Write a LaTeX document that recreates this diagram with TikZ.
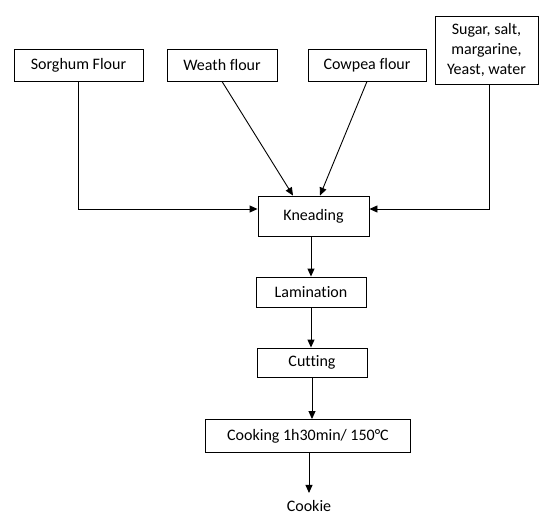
\documentclass[tikz,border=0pt]{standalone}
\usepackage{fontspec}
\setmainfont{Carlito}[Ligatures=NoCommon]
\usetikzlibrary{arrows.meta}
\begin{document}
\begin{tikzpicture}[x=1pt,y=-1pt,
  txt/.style={font=\fontsize{16}{20}\selectfont},
  box/.style={txt,draw,line width=0.9pt,inner sep=0pt,align=center},
  conn/.style={line width=0.9pt,-{Triangle[length=8pt,width=7pt]}}]
\useasboundingbox (0,0) rectangle (539,517);
\node[box,minimum width=129pt,minimum height=32pt] (sorg) at (78.5,65) {Sorghum Flour};
\node[box,minimum width=110pt,minimum height=32pt] (weath) at (222,65) {Weath flour};
\node[box,minimum width=118pt,minimum height=32pt] (cow) at (367,65) {Cowpea flour};
\node[box,minimum width=103pt,minimum height=68pt] (sugar) at (486.5,50) {Sugar, salt,\\margarine,\\Yeast, water};
\node[box,minimum width=111pt,minimum height=40pt] (knead) at (313.5,216) {Kneading};
\node[box,minimum width=110pt,minimum height=30pt] (lam) at (311,292) {Lamination};
\node[box,minimum width=110pt,minimum height=29pt] (cut) at (312,362.5) {Cutting};
\node[box,minimum width=205pt,minimum height=33pt] (cook) at (308,436) {Cooking 1h30min/ 150°C};
\node[txt,inner sep=0pt] (cookie) at (309,506) {Cookie};
\draw[conn] (sorg.south) |- ([yshift=7pt]knead.west);
\draw[conn] ([xshift=3pt]sugar.south) |- ([yshift=7pt]knead.east);
\draw[conn] (weath.south) -- ([xshift=-20.5pt]knead.north);
\draw[conn] (cow.south) -- ([xshift=6.5pt]knead.north);
\draw[conn] (lam.north |- knead.south) -- (lam.north);
\draw[conn] (lam.south) -- (lam.south |- cut.north);
\draw[conn] (cut.south) -- (cut.south |- cook.north);
\draw[conn] ([xshift=1pt]cook.south) -- ([xshift=1pt,yshift=-40pt]cook.south);
\end{tikzpicture}
\end{document}
